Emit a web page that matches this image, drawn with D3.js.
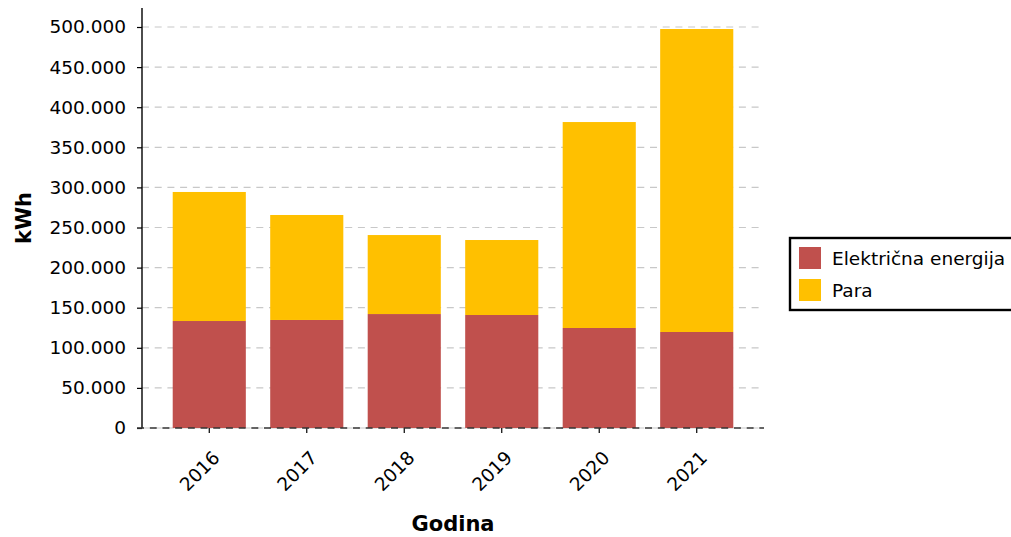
<!DOCTYPE html>
<html>
<head>
<meta charset="utf-8">
<script src="https://cdnjs.cloudflare.com/ajax/libs/d3/7.8.5/d3.min.js"></script>
<style>
  html, body { margin: 0; padding: 0; background: #fff; }
  svg { display: block; font-family: "DejaVu Sans", sans-serif; }
</style>
</head>
<body>
<div id="chart"></div>
<script>
const years = ['2016', '2017', '2018', '2019', '2020', '2021'];
const elektricna = [133400, 134700, 142100, 140900, 124700, 119700];
const para = [160900, 130900, 98500, 93500, 256800, 377800];
const seriesNames = ['Električna energija', 'Para'];
const seriesColors = ['#C0504D', '#FFC000'];
const yTicks = [0, 50000, 100000, 150000, 200000, 250000, 300000, 350000, 400000, 450000, 500000];

const width = 1011, height = 537;
const plot = { left: 142, right: 764, top: 8, bottom: 428 };
const font = '"DejaVu Sans", sans-serif';

const svg = d3.select('#chart').append('svg')
    .attr('width', width)
    .attr('height', height);

const x = d3.scaleBand()
    .domain(years)
    .range([plot.left, plot.right])
    .paddingInner(0.25)
    .paddingOuter(0.315);

const y = d3.scaleLinear()
    .domain([0, 523700])
    .range([plot.bottom, plot.top]);

const fmt = v => d3.format(',')(v).replace(/,/g, '.');

// grid
svg.append('g')
    .selectAll('line')
    .data(yTicks)
    .enter()
    .append('line')
    .attr('x1', plot.left)
    .attr('x2', plot.right)
    .attr('y1', d => y(d))
    .attr('y2', d => y(d))
    .attr('stroke', '#c8c8c8')
    .attr('stroke-width', 1.2)
    .attr('stroke-dasharray', '7,5.7');

// stacked bars
const rows = years.map((yr, i) => ({ year: yr, e: elektricna[i], p: para[i] }));
const stack = d3.stack().keys(['e', 'p'])(rows);

svg.append('g')
    .selectAll('g')
    .data(stack)
    .enter()
    .append('g')
    .attr('fill', (d, i) => seriesColors[i])
    .selectAll('rect')
    .data(d => d)
    .enter()
    .append('rect')
    .attr('x', d => x(d.data.year))
    .attr('width', x.bandwidth())
    .attr('y', d => y(d[1]))
    .attr('height', d => y(d[0]) - y(d[1]));

// y axis
const yAxis = svg.append('g')
    .attr('transform', `translate(${plot.left},0)`)
    .call(d3.axisLeft(y).tickValues(yTicks).tickFormat(fmt).tickSize(5).tickPadding(11));
yAxis.attr('font-family', font).attr('font-size', 18.5);
yAxis.select('.domain').remove();
yAxis.selectAll('.tick line').attr('stroke', '#000').attr('stroke-width', 1.2);
yAxis.selectAll('text').attr('fill', '#000');

svg.append('line')
    .attr('x1', plot.left).attr('x2', plot.left)
    .attr('y1', plot.top).attr('y2', plot.bottom)
    .attr('stroke', '#000').attr('stroke-width', 1.4);

// x axis
const xAxis = svg.append('g')
    .attr('transform', `translate(0,${plot.bottom})`)
    .call(d3.axisBottom(x).tickSize(5));
xAxis.attr('font-family', font).attr('font-size', 18.5);
xAxis.select('.domain').remove();
xAxis.selectAll('.tick line').attr('stroke', '#000').attr('stroke-width', 1.2);
xAxis.selectAll('text')
    .attr('fill', '#000')
    .attr('x', 0).attr('y', 0).attr('dy', 0)
    .attr('text-anchor', 'end')
    .attr('transform', 'translate(11.5,31) rotate(-45)');

svg.append('line')
    .attr('x1', plot.left - 5).attr('x2', plot.right)
    .attr('y1', plot.bottom).attr('y2', plot.bottom)
    .attr('stroke', '#333').attr('stroke-width', 1.4)
    .attr('stroke-dasharray', '7,5.7');

// axis titles
svg.append('text')
    .attr('x', 453).attr('y', 531)
    .attr('text-anchor', 'middle')
    .style('font-size', '21px').style('font-weight', 'bold')
    .text('Godina');

svg.append('text')
    .attr('transform', 'translate(31,218) rotate(-90)')
    .attr('text-anchor', 'middle')
    .style('font-size', '21px').style('font-weight', 'bold')
    .text('kWh');

// legend
const legend = svg.append('g').attr('transform', 'translate(790,238)');
legend.append('rect')
    .attr('width', 240).attr('height', 72)
    .attr('fill', '#fff').attr('stroke', '#000').attr('stroke-width', 2.4);
seriesNames.forEach((name, i) => {
    legend.append('rect')
        .attr('x', 9).attr('y', 9 + i * 32)
        .attr('width', 22).attr('height', 22)
        .attr('fill', seriesColors[i]);
    legend.append('text')
        .attr('x', 42).attr('y', 27 + i * 32)
        .style('font-size', '18.5px')
        .text(name);
});
</script>
</body>
</html>
